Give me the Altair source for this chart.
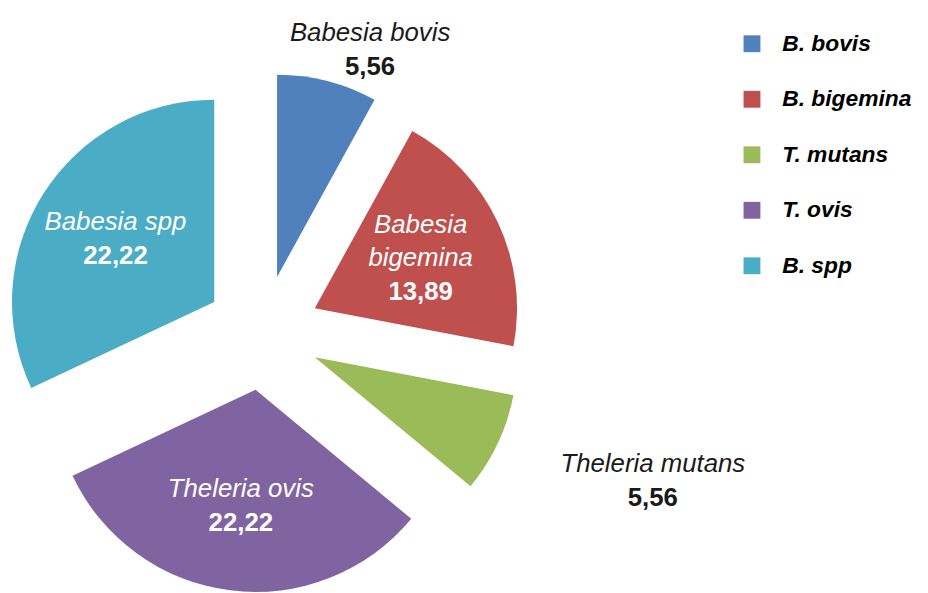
import altair as alt
import pandas as pd

legend_names = ["B. bovis", "B. bigemina", "T. mutans", "T. ovis", "B. spp"]
label_line1 = ["Babesia bovis", "Babesia", "Theleria mutans", "Theleria ovis", "Babesia spp"]
label_line2 = ["", "bigemina", "", "", ""]
values = [5.56, 13.89, 5.56, 22.22, 22.22]
colors = ["#4F81BD", "#C0504D", "#9BBB59", "#8064A2", "#4BACC6"]

df = pd.DataFrame({
    "order": list(range(len(values))),
    "series": legend_names,
    "line1": label_line1,
    "line2": label_line2,
    "value": values,
})

# geometry (chart coordinates)
CX, CY = 257, 325
EXPLODE = 58
R = 204
IN_R = 176
OUT_RX, OUT_RY, OUT_DY = 435, 312, 17
LH = 34
FONT = "Liberation Sans"

base = (
    alt.Chart(df)
    .transform_joinaggregate(total="sum(value)")
    .transform_window(cum="sum(value)", sort=[alt.SortField("order")], frame=[None, 0])
    .transform_calculate(t1="2*PI*datum.cum/datum.total")
    .transform_calculate(t0="datum.t1 - 2*PI*datum.value/datum.total")
    .transform_calculate(mid="(datum.t0 + datum.t1)/2")
    .transform_calculate(
        cx=f"{CX} + {EXPLODE}*sin(datum.mid)",
        cy=f"{CY} - {EXPLODE}*cos(datum.mid)",
        px=f"datum.value < 10 ? {CX} + {OUT_RX}*sin(datum.mid) : {CX} + {IN_R}*sin(datum.mid)",
        py=f"datum.value < 10 ? {CY} - {OUT_RY}*cos(datum.mid) + {OUT_DY} : {CY} - {IN_R}*cos(datum.mid)",
        n="datum.line2 == '' ? 2 : 3",
        vlabel="replace(format(datum.value, '.2f'), '.', ',')",
    )
    .transform_calculate(ytop=f"datum.py - (datum.n - 1)*{LH}/2")
    .transform_calculate(
        y1="datum.ytop",
        y2=f"datum.ytop + {LH}",
        yv=f"datum.ytop + (datum.n - 1)*{LH}",
    )
)

arcs = base.mark_arc(radius=R, strokeWidth=0).encode(
    x=alt.X("cx:Q", scale=None, axis=None),
    y=alt.Y("cy:Q", scale=None, axis=None),
    theta=alt.Theta("t0:Q", scale=None, stack=None),
    theta2=alt.Theta2("t1:Q"),
    color=alt.Color(
        "series:N",
        scale=alt.Scale(domain=legend_names, range=colors),
        sort=legend_names,
        legend=alt.Legend(
            title=None,
            orient="none",
            legendX=739,
            legendY=22,
            symbolType="square",
            symbolSize=289,
            symbolStrokeWidth=0,
            labelFont=FONT,
            labelFontSize=23,
            labelFontStyle="italic",
            labelFontWeight="bold",
            labelColor="black",
            labelOffset=19,
            rowPadding=32,
            padding=0,
        ),
    ),
)

txt_color = alt.condition("datum.value < 10", alt.value("#1a1a1a"), alt.value("white"))

line1 = base.mark_text(font=FONT, fontSize=26, fontStyle="italic", baseline="middle", align="center").encode(
    x=alt.X("px:Q", scale=None), y=alt.Y("y1:Q", scale=None), text="line1:N", color=txt_color
)
line2 = base.mark_text(font=FONT, fontSize=26, fontStyle="italic", baseline="middle", align="center").encode(
    x=alt.X("px:Q", scale=None), y=alt.Y("y2:Q", scale=None), text="line2:N", color=txt_color
)
vals = base.mark_text(font=FONT, fontSize=26, fontWeight="bold", baseline="middle", align="center").encode(
    x=alt.X("px:Q", scale=None), y=alt.Y("yv:Q", scale=None), text="vlabel:N", color=txt_color
)

chart = (
    alt.layer(arcs, line1, line2, vals)
    .properties(width=920, height=585, padding=0, autosize="none")
    .configure_view(stroke=None)
)

chart.save("out.html", embed_options={"renderer": "svg", "actions": False})
